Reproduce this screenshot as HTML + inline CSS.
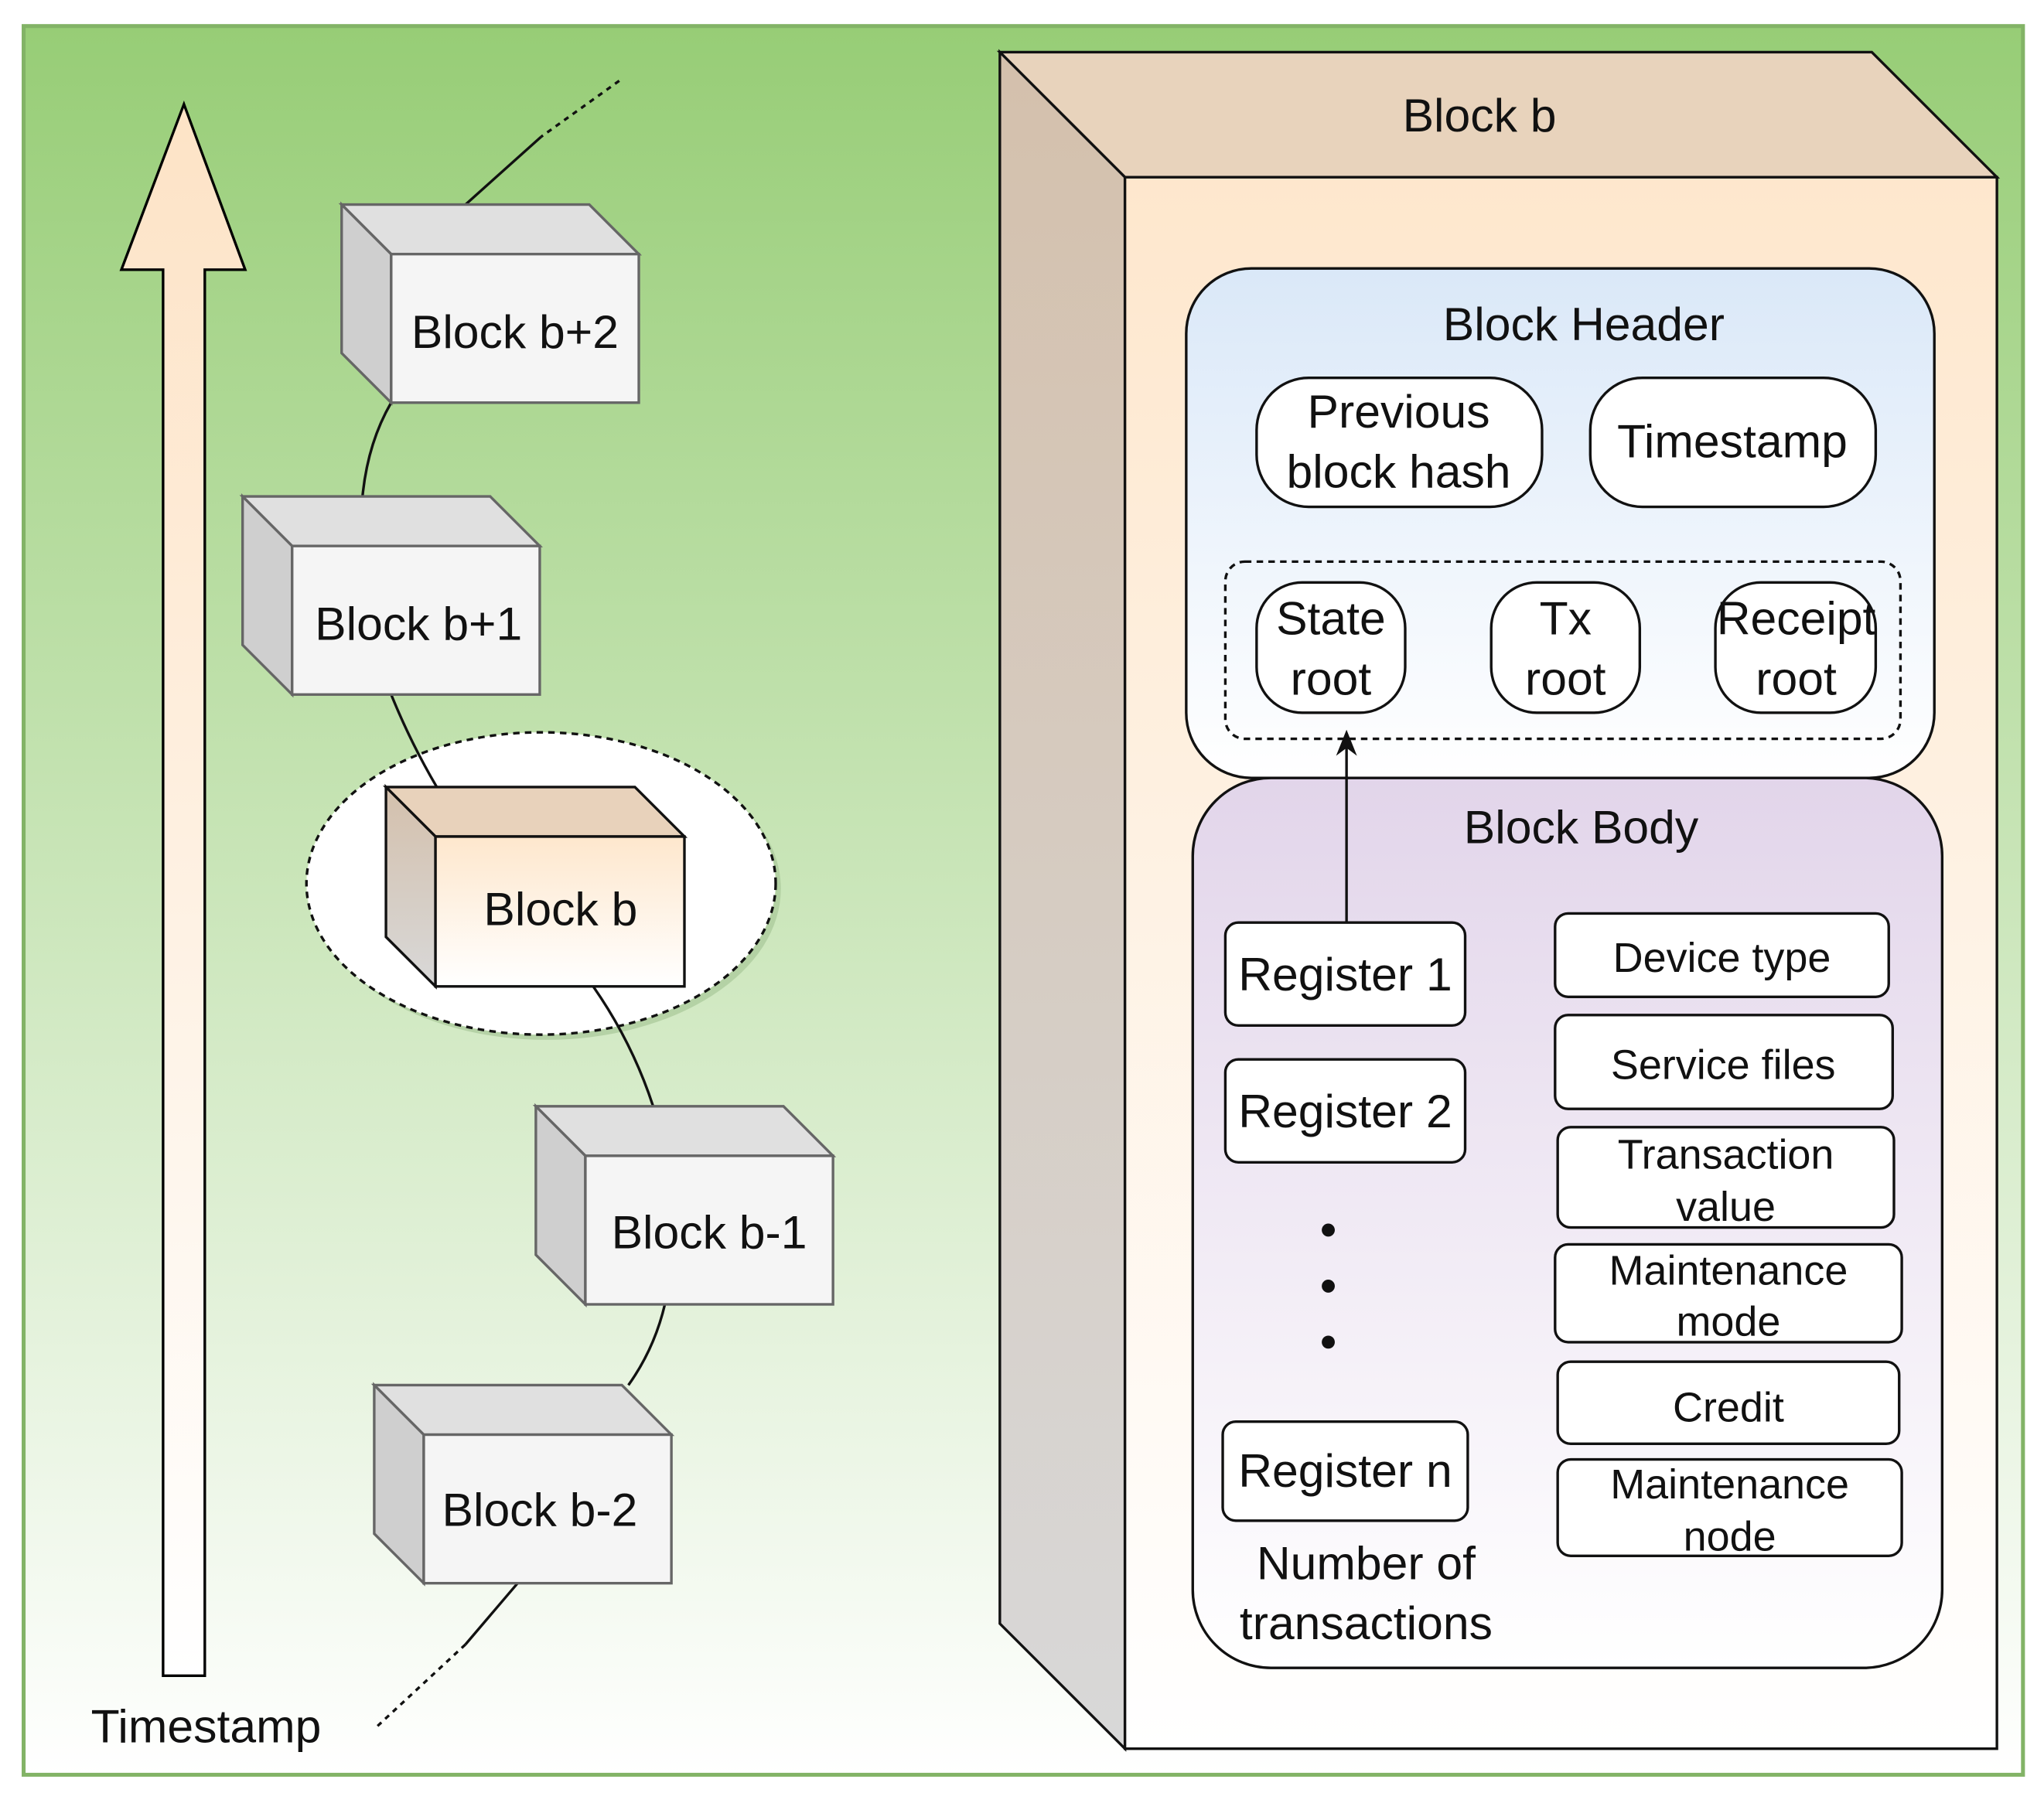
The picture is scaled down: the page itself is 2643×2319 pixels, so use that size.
<!DOCTYPE html>
<html><head><meta charset="utf-8"><style>html,body{margin:0;padding:0;background:#fff}svg{display:block}text{font-family:"Liberation Sans",sans-serif;fill:#111}</style></head>
<body>
<svg width="2643" height="2319" viewBox="0 0 1568 1376" xmlns="http://www.w3.org/2000/svg">
<defs>
<linearGradient id="bg" x1="0" y1="0" x2="0" y2="1"><stop offset="0" stop-color="#97cd76"/><stop offset="1" stop-color="#ffffff"/></linearGradient>
<linearGradient id="arr" x1="0" y1="0" x2="0" y2="1"><stop offset="0" stop-color="#fde3c6"/><stop offset="1" stop-color="#ffffff"/></linearGradient>
<linearGradient id="peach" x1="0" y1="0" x2="0" y2="1"><stop offset="0" stop-color="#fee7cd"/><stop offset="1" stop-color="#ffffff"/></linearGradient>
<linearGradient id="hdr" x1="0" y1="0" x2="0" y2="1"><stop offset="0" stop-color="#dae8f8"/><stop offset="1" stop-color="#ffffff"/></linearGradient>
<linearGradient id="body" x1="0" y1="0" x2="0" y2="1"><stop offset="0" stop-color="#e2d5ea"/><stop offset="1" stop-color="#ffffff"/></linearGradient>
<linearGradient id="bside" x1="0" y1="0" x2="0" y2="1"><stop offset="0" stop-color="#d4c0ac"/><stop offset="1" stop-color="#d8d8d8"/></linearGradient>
<marker id="ah" markerWidth="10" markerHeight="10" refX="5" refY="5" orient="auto"><path d="M0,1 L10,5 L0,9 L3,5z" fill="#111"/></marker>
</defs>
<rect x="18" y="20" width="1534" height="1342" fill="url(#bg)" stroke="#82b366" stroke-width="3"/>
<path d="M125,1286 L125,207 L93,207 L141,80 L188,207 L157,207 L157,1286 Z" fill="url(#arr)" stroke="#000" stroke-width="2"/>
<text x="158" y="1337" font-size="36" text-anchor="middle">Timestamp</text>
<ellipse cx="419" cy="682" rx="180" ry="116" fill="#a8c898" opacity="0.7"/>
<ellipse cx="415" cy="678" rx="180" ry="116" fill="#fff" stroke="#111" stroke-width="2" stroke-dasharray="5,4"/>
<g fill="none" stroke="#111" stroke-width="2">
<path d="M475,62 L415,105" stroke-dasharray="4,4"/>
<path d="M415,105 L357,157"/>
<path d="M300,309 Q282,340 278,381"/>
<path d="M300,533 Q315,570 335,604"/>
<path d="M455,757 Q485,800 501,849"/>
<path d="M510,1001 Q502,1035 482,1063"/>
<path d="M397,1215 L357,1262"/>
<path d="M357,1262 L288,1326" stroke-dasharray="4,4"/>
</g>
<g stroke="#666" stroke-width="2">
<g transform="translate(262,157)"><path d="M0,0 L190,0 L228,38 L38,38Z" fill="#e0e0e0"/><path d="M0,0 L38,38 L38,152 L0,114Z" fill="#cfcfcf"/><rect x="38" y="38" width="190" height="114" fill="#f5f5f5"/></g>
<g transform="translate(186,381)"><path d="M0,0 L190,0 L228,38 L38,38Z" fill="#e0e0e0"/><path d="M0,0 L38,38 L38,152 L0,114Z" fill="#cfcfcf"/><rect x="38" y="38" width="190" height="114" fill="#f5f5f5"/></g>
<g transform="translate(296,604)" stroke="#111"><path d="M0,0 L191,0 L229,38 L38,38Z" fill="#e8d2bb"/><path d="M0,0 L38,38 L38,153 L0,115Z" fill="url(#bside)"/><rect x="38" y="38" width="191" height="115" fill="url(#peach)"/></g>
<g transform="translate(411,849)"><path d="M0,0 L190,0 L228,38 L38,38Z" fill="#e0e0e0"/><path d="M0,0 L38,38 L38,152 L0,114Z" fill="#cfcfcf"/><rect x="38" y="38" width="190" height="114" fill="#f5f5f5"/></g>
<g transform="translate(287,1063)"><path d="M0,0 L190,0 L228,38 L38,38Z" fill="#e0e0e0"/><path d="M0,0 L38,38 L38,152 L0,114Z" fill="#cfcfcf"/><rect x="38" y="38" width="190" height="114" fill="#f5f5f5"/></g>
</g>
<g font-size="36" text-anchor="middle">
<text x="395" y="267">Block b+2</text>
<text x="321" y="491">Block b+1</text>
<text x="430" y="710">Block b</text>
<text x="544" y="958">Block b-1</text>
<text x="414" y="1171">Block b-2</text>
</g>
<g stroke="#111" stroke-width="2">
<path d="M767,40 L1436,40 L1532,136 L863,136Z" fill="#e8d3bc"/>
<path d="M767,40 L863,136 L863,1342 L767,1246Z" fill="url(#bside)"/>
<rect x="863" y="136" width="669" height="1206" fill="url(#peach)"/>
</g>
<text x="1135" y="101" font-size="36" text-anchor="middle">Block b</text>
<rect x="910" y="206" width="574" height="391" rx="50" fill="url(#hdr)" stroke="#111" stroke-width="2"/>
<text x="1215" y="261" font-size="36" text-anchor="middle">Block Header</text>
<g fill="#fff" stroke="#111" stroke-width="2">
<rect x="964" y="290" width="219" height="99" rx="40"/>
<rect x="1220" y="290" width="219" height="99" rx="40"/>
</g>
<rect x="940" y="431" width="518" height="136" rx="15" fill="none" stroke="#111" stroke-width="2" stroke-dasharray="5,4"/>
<g fill="#fff" stroke="#111" stroke-width="2">
<rect x="964" y="447" width="114" height="100" rx="35"/>
<rect x="1144" y="447" width="114" height="100" rx="35"/>
<rect x="1316" y="447" width="123" height="100" rx="35"/>
</g>
<g font-size="36" text-anchor="middle">
<text x="1073" y="328">Previous</text><text x="1073" y="374">block hash</text>
<text x="1329" y="351">Timestamp</text>
<text x="1021" y="487">State</text><text x="1021" y="533">root</text>
<text x="1201" y="487">Tx</text><text x="1201" y="533">root</text>
<text x="1378" y="487">Receipt</text><text x="1378" y="533">root</text>
</g>
<rect x="915" y="597" width="575" height="683" rx="60" fill="url(#body)" stroke="#111" stroke-width="2"/>
<text x="1213" y="647" font-size="36" text-anchor="middle">Block Body</text>
<line x1="1033" y1="708" x2="1033" y2="570" stroke="#111" stroke-width="2" marker-end="url(#ah)"/>
<g fill="#fff" stroke="#111" stroke-width="2">
<rect x="940" y="708" width="184" height="79" rx="10"/>
<rect x="940" y="813" width="184" height="79" rx="10"/>
<rect x="938" y="1091" width="188" height="76" rx="10"/>
<rect x="1193" y="701" width="256" height="64" rx="10"/>
<rect x="1193" y="779" width="259" height="72" rx="10"/>
<rect x="1195" y="865" width="258" height="77" rx="10"/>
<rect x="1193" y="955" width="266" height="75" rx="10"/>
<rect x="1195" y="1045" width="262" height="63" rx="10"/>
<rect x="1195" y="1120" width="264" height="74" rx="10"/>
</g>
<g fill="#111"><circle cx="1019" cy="944" r="5"/><circle cx="1019" cy="987" r="5"/><circle cx="1019" cy="1030" r="5"/></g>
<g font-size="36" text-anchor="middle">
<text x="1032" y="760">Register 1</text>
<text x="1032" y="865">Register 2</text>
<text x="1032" y="1141">Register n</text>
<text x="1048" y="1212">Number of</text>
<text x="1048" y="1258">transactions</text>
</g>
<g font-size="32" text-anchor="middle">
<text x="1321" y="746">Device type</text>
<text x="1322" y="828">Service files</text>
<text x="1324" y="897">Transaction</text><text x="1324" y="937">value</text>
<text x="1326" y="986">Maintenance</text><text x="1326" y="1025">mode</text>
<text x="1326" y="1091">Credit</text>
<text x="1327" y="1150">Maintenance</text><text x="1327" y="1190">node</text>
</g>
</svg>
</body></html>
